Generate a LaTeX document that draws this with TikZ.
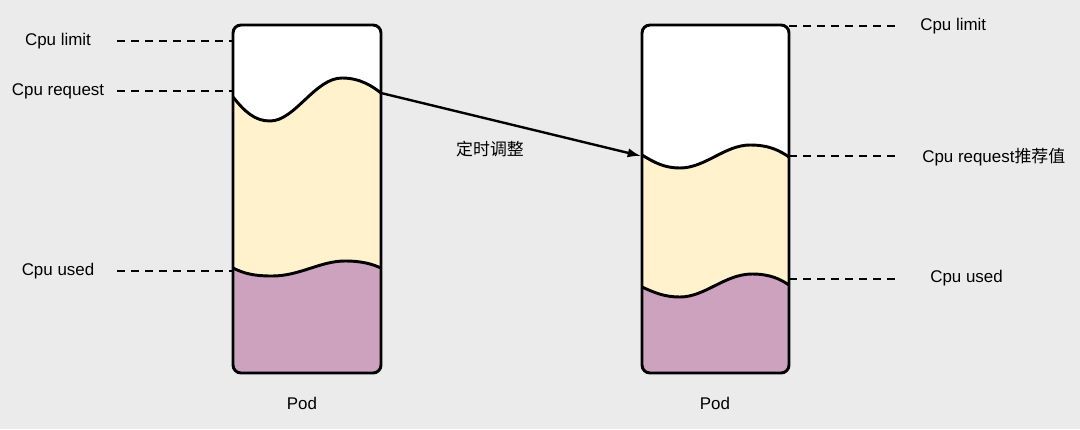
\documentclass[tikz,border=0pt]{standalone}
\usepackage{fontspec}
\setmainfont{Liberation Sans}
\newfontfamily\cjk{Noto Sans CJK SC}
\usetikzlibrary{arrows.meta}
\definecolor{bggray}{HTML}{EBEBEB}
\definecolor{reqfill}{HTML}{FFF2CC}
\definecolor{usedfill}{HTML}{CDA2BE}

\begin{document}
\begin{tikzpicture}[x=0.75pt,y=-0.75pt]

		\tikzset{>={Latex[length=10pt,width=7pt]}} % Set the arrowhead type!
		\tikzset{PodLine/.style = {line width = 2.2pt, line join = round}}
		\tikzset{DashLine/.style = {line width = 2pt, dash pattern = on 6pt off 4.5pt}}
		\tikzset{LabelStyle/.style = {font = \fontsize{12.7}{15}\selectfont, inner sep = 0pt}}

		\fill[bggray] (0,0) rectangle (1080,429);
		\useasboundingbox (0,0) rectangle (1080,429);

		% left pod
		\begin{scope}
		\clip[rounded corners=6pt] (233,25) rectangle (381,373);
		\fill[white] (233,25) rectangle (381,373);
		\fill[reqfill] (233,97) .. controls (245,112) and (255,121) .. (270,121)
			.. controls (295,121) and (315,78) .. (342,78)
			.. controls (360,78) and (372,86) .. (381,93) -- (381,373) -- (233,373) -- cycle;
		\fill[usedfill] (233,268) .. controls (245,274) and (255,276) .. (272,276)
			.. controls (300,276) and (320,261) .. (345,261)
			.. controls (362,261) and (372,264) .. (381,268) -- (381,373) -- (233,373) -- cycle;
		\end{scope}
		\draw[PodLine, rounded corners=6pt] (233,25) rectangle (381,373);
		\draw[PodLine] (233,97) .. controls (245,112) and (255,121) .. (270,121)
			.. controls (295,121) and (315,78) .. (342,78)
			.. controls (360,78) and (372,86) .. (381,93);
		\draw[PodLine] (233,268) .. controls (245,274) and (255,276) .. (272,276)
			.. controls (300,276) and (320,261) .. (345,261)
			.. controls (362,261) and (372,264) .. (381,268);

		% right pod
		\begin{scope}
		\clip[rounded corners=6pt] (642,25) rectangle (789,373);
		\fill[white] (642,25) rectangle (789,373);
		\fill[reqfill] (642,155) .. controls (655,163) and (665,168) .. (680,168)
			.. controls (705,168) and (725,145) .. (750,145)
			.. controls (770,145) and (780,151) .. (789,157) -- (789,373) -- (642,373) -- cycle;
		\fill[usedfill] (642,287) .. controls (655,293) and (665,297) .. (680,297)
			.. controls (705,297) and (725,274) .. (752,274)
			.. controls (770,274) and (780,279) .. (789,285) -- (789,373) -- (642,373) -- cycle;
		\end{scope}
		\draw[PodLine, rounded corners=6pt] (642,25) rectangle (789,373);
		\draw[PodLine] (642,155) .. controls (655,163) and (665,168) .. (680,168)
			.. controls (705,168) and (725,145) .. (750,145)
			.. controls (770,145) and (780,151) .. (789,157);
		\draw[PodLine] (642,287) .. controls (655,293) and (665,297) .. (680,297)
			.. controls (705,297) and (725,274) .. (752,274)
			.. controls (770,274) and (780,279) .. (789,285);

		\coordinate (limitLpod) at (233,41);
		\coordinate (reqLpod) at (233,91);
		\coordinate (usedLpod) at (233,271);
		\coordinate (reqLtop) at (381,93);
		\coordinate (limitRpod) at (789,26);
		\coordinate (reqRpod) at (789,156);
		\coordinate (usedRpod) at (789,279);
		\coordinate (reqRtop) at (641,156);
		\coordinate (limitRend) at (900,26);
		\coordinate (reqRend) at (900,156);
		\coordinate (usedRend) at (900,279);

		\node[LabelStyle, minimum width=88.5pt] (limitL) at (58,41) {Cpu limit};
		\node[LabelStyle, minimum width=88.5pt] (reqL) at (58,91) {Cpu request};
		\node[LabelStyle, minimum width=88.5pt] (usedL) at (58,271) {Cpu used};
		\node[LabelStyle, anchor=west] (limitR) at (920,26) {Cpu limit};
		\node[LabelStyle, anchor=west] (reqR) at (922,157) {Cpu request{\cjk 推荐值}};
		\node[LabelStyle, anchor=west] (usedR) at (930,278) {Cpu used};
		\node[LabelStyle] (podL) at (302,403) {Pod};
		\node[LabelStyle] (podR) at (715,403) {Pod};
		\node[LabelStyle] (adjust) at (490,149) {\cjk 定时调整};

		\draw[DashLine] (limitL.east) -- (limitLpod);
		\draw[DashLine] (reqL.east) -- (reqLpod);
		\draw[DashLine] (usedL.east) -- (usedLpod);
		\draw[DashLine] (limitRpod) -- (limitRend);
		\draw[DashLine] (reqRpod) -- (reqRend);
		\draw[DashLine] (usedRpod) -- (usedRend);

		\draw[->, line width = 1.8pt] (reqLtop) -- (reqRtop);
		%\draw[->] (reqLtop) .. controls (470,112) and (560,136) .. (reqRtop);
		\end{tikzpicture}
\end{document}
